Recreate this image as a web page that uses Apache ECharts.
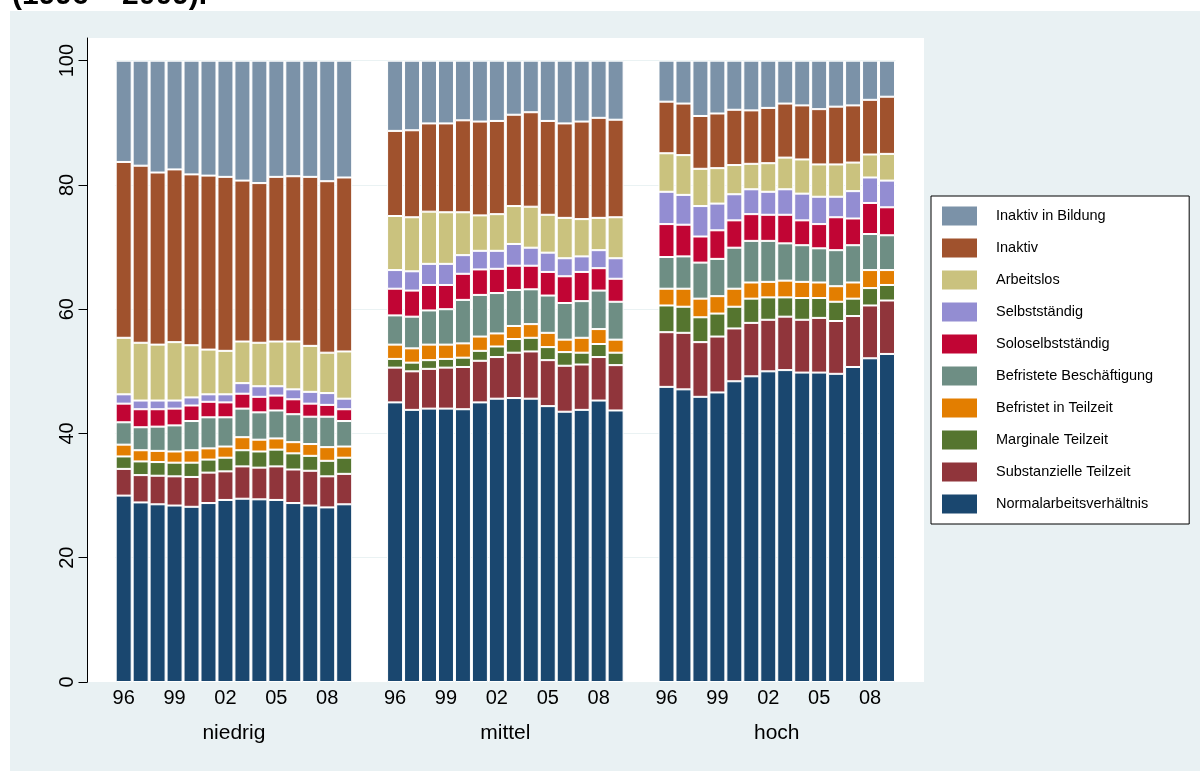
<!DOCTYPE html>
<html>
<head>
<meta charset="utf-8">
<script src="https://cdn.jsdelivr.net/npm/echarts@6/dist/echarts.min.js"></script>
<style>
html,body{margin:0;padding:0;background:#fff}
#main{width:1200px;height:771px}
</style>
</head>
<body>
<div id="main"></div>
<script>
const groups = ['niedrig', 'mittel', 'hoch'];
const years = ['96','97','98','99','00','01','02','03','04','05','06','07','08','09'];
const tickYears = ['96','99','02','05','08'];
const yTicks = [0, 20, 40, 60, 80, 100];

// one row per group: niedrig, mittel, hoch
const normal = [
  [30.0, 28.9, 28.6, 28.4, 28.2, 28.8, 29.3, 29.5, 29.4, 29.3, 28.8, 28.4, 28.1, 28.6],
  [45.0, 43.8, 44.0, 44.0, 43.9, 45.0, 45.6, 45.7, 45.6, 44.4, 43.5, 43.8, 45.3, 43.7],
  [47.5, 47.1, 45.9, 46.6, 48.4, 49.2, 50.0, 50.2, 49.8, 49.8, 49.6, 50.7, 52.1, 52.8]
];
const substanziell = [
  [4.3, 4.4, 4.6, 4.7, 4.8, 4.9, 4.6, 5.2, 5.1, 5.4, 5.4, 5.6, 5.0, 4.9],
  [5.6, 6.2, 6.4, 6.6, 6.8, 6.7, 6.7, 7.3, 7.6, 7.4, 7.4, 7.3, 7.0, 7.3],
  [8.8, 9.1, 8.8, 9.0, 8.5, 8.6, 8.3, 8.6, 8.5, 8.8, 8.5, 8.2, 8.5, 8.6]
];
const marginal = [
  [2.0, 2.2, 2.2, 2.2, 2.3, 2.1, 2.2, 2.6, 2.6, 2.7, 2.6, 2.4, 2.5, 2.6],
  [1.4, 1.4, 1.4, 1.4, 1.5, 1.6, 1.7, 2.2, 2.2, 2.1, 2.2, 1.9, 2.1, 2.0],
  [4.3, 4.2, 4.0, 3.7, 3.5, 3.9, 3.6, 3.1, 3.5, 3.2, 3.1, 2.8, 2.8, 2.5]
];
const befristetTeilzeit = [
  [1.9, 1.8, 1.8, 1.8, 2.0, 1.8, 1.8, 2.1, 1.9, 1.8, 1.8, 1.9, 2.2, 1.8],
  [2.3, 2.3, 2.5, 2.3, 2.3, 2.3, 2.1, 2.1, 2.2, 2.3, 2.0, 2.4, 2.4, 2.1],
  [2.7, 2.9, 3.0, 2.8, 2.9, 2.6, 2.5, 2.7, 2.6, 2.5, 2.5, 2.6, 2.9, 2.4]
];
const befristet = [
  [3.6, 3.7, 3.9, 4.2, 4.7, 5.0, 4.7, 4.6, 4.4, 4.5, 4.5, 4.4, 4.9, 4.1],
  [4.7, 5.1, 5.5, 5.7, 7.0, 6.7, 6.5, 5.8, 5.6, 6.0, 5.9, 5.9, 6.2, 6.1],
  [5.1, 5.2, 5.8, 6.0, 6.6, 6.7, 6.6, 6.0, 5.9, 5.5, 5.8, 6.0, 5.8, 5.6]
];
const solo = [
  [3.0, 2.9, 2.8, 2.7, 2.5, 2.5, 2.4, 2.4, 2.5, 2.4, 2.4, 2.1, 1.9, 1.9],
  [4.3, 4.2, 4.1, 3.9, 4.2, 4.1, 3.9, 3.9, 3.8, 3.8, 4.3, 4.7, 3.6, 3.7],
  [5.3, 5.1, 4.2, 4.6, 4.4, 4.3, 4.2, 4.6, 4.0, 3.9, 5.3, 4.3, 5.0, 4.5]
];
const selbst = [
  [1.5, 1.4, 1.4, 1.3, 1.3, 1.2, 1.3, 1.7, 1.7, 1.5, 1.6, 1.9, 1.9, 1.7],
  [3.0, 3.1, 3.4, 3.4, 3.0, 3.0, 2.9, 3.5, 2.9, 3.1, 2.9, 2.5, 2.9, 3.3],
  [5.2, 4.8, 4.9, 4.3, 4.2, 4.0, 3.7, 4.1, 4.3, 4.4, 3.3, 4.4, 4.1, 4.3]
];
const arbeitslos = [
  [9.1, 9.3, 9.0, 9.4, 8.4, 7.2, 7.0, 6.7, 7.0, 7.2, 7.7, 7.4, 6.5, 7.6],
  [8.7, 8.7, 8.4, 8.3, 6.9, 5.7, 5.9, 6.1, 6.6, 6.1, 6.5, 6.0, 5.2, 6.6],
  [6.2, 6.4, 6.0, 5.7, 4.7, 4.1, 4.6, 5.1, 5.5, 5.2, 5.2, 4.6, 3.7, 4.3]
];
const inaktiv = [
  [28.3, 28.5, 27.7, 27.8, 27.5, 28.0, 28.0, 25.9, 25.7, 26.5, 26.6, 27.2, 27.6, 28.0],
  [13.7, 14.0, 14.2, 14.3, 14.8, 15.1, 15.0, 14.7, 15.2, 15.1, 15.2, 15.7, 16.1, 15.7],
  [8.3, 8.3, 8.5, 8.8, 8.9, 8.6, 8.9, 8.7, 8.7, 8.9, 9.3, 9.2, 8.8, 9.2]
];
const bildung = [
  [16.3, 16.9, 18.0, 17.5, 18.3, 18.5, 18.7, 19.3, 19.7, 18.7, 18.6, 18.7, 19.4, 18.8],
  [11.3, 11.2, 10.1, 10.1, 9.6, 9.8, 9.7, 8.7, 8.3, 9.7, 10.1, 9.8, 9.2, 9.5],
  [6.6, 6.9, 8.9, 8.5, 7.9, 8.0, 7.6, 6.9, 7.2, 7.8, 7.4, 7.2, 6.3, 5.8]
];

const seriesDefs = [
  {name: 'Normalarbeitsverhältnis', data: normal, color: '#1a476f'},
  {name: 'Substanzielle Teilzeit', data: substanziell, color: '#90353b'},
  {name: 'Marginale Teilzeit', data: marginal, color: '#55752f'},
  {name: 'Befristet in Teilzeit', data: befristetTeilzeit, color: '#e37e00'},
  {name: 'Befristete Beschäftigung', data: befristet, color: '#6e8e84'},
  {name: 'Soloselbstständig', data: solo, color: '#c10534'},
  {name: 'Selbstständig', data: selbst, color: '#938dd2'},
  {name: 'Arbeitslos', data: arbeitslos, color: '#cac27e'},
  {name: 'Inaktiv', data: inaktiv, color: '#a0522d'},
  {name: 'Inaktiv in Bildung', data: bildung, color: '#7b92a8'}
];

// 14 bars per group, two empty slots between groups
const gapSlots = 2;
const step = years.length + gapSlots;
const categories = [];
groups.forEach((g, gi) => {
  years.forEach(y => categories.push(g + ' ' + y));
  if (gi < groups.length - 1) for (let k = 0; k < gapSlots; k++) categories.push('gap' + gi + k);
});
const withGaps = rows => rows.flatMap((row, gi) =>
  gi < rows.length - 1 ? row.concat(new Array(gapSlots).fill('-')) : row);
const groupCenters = groups.map((g, gi) => gi * step + (years.length - 1) / 2);

const font = "'Liberation Sans', Arial, sans-serif";

const chart = echarts.init(document.getElementById('main'));
chart.setOption({
  animation: false,
  backgroundColor: '#e9f1f3',
  textStyle: {fontFamily: font},
  graphic: [
    {type: 'rect', left: 0, top: 0, shape: {width: 1200, height: 11}, style: {fill: '#fff'}, silent: true},
    {type: 'rect', left: 0, top: 0, shape: {width: 10, height: 771}, style: {fill: '#fff'}, silent: true},
    {type: 'rect', left: 87.5, top: 38, z: -10, shape: {width: 836.5, height: 644}, style: {fill: '#fff'}, silent: true},
    {type: 'text', left: 12, top: -19, style: {text: '(1996 – 2009).', font: "bold 30px 'Liberation Sans', Arial", fill: '#000'}}
  ],
  grid: {left: 115.2, top: 38, right: 304.5, bottom: 89},
  legend: {
    orient: 'vertical',
    left: 931, top: 196,
    data: seriesDefs.map(s => s.name).reverse(),
    icon: 'rect',
    itemWidth: 35, itemHeight: 19, itemGap: 13,
    padding: [10.5, 36, 10.5, 11],
    backgroundColor: '#fff',
    borderColor: '#000', borderWidth: 1, borderRadius: 0,
    itemStyle: {borderWidth: 0},
    textStyle: {fontSize: 14.5, color: '#000', fontFamily: font, padding: [0, 0, 0, 14]}
  },
  xAxis: [
    {
      type: 'category', data: categories,
      axisLine: {show: false}, axisTick: {show: false}, splitLine: {show: false},
      axisLabel: {
        interval: 0, fontSize: 20, color: '#000', margin: 6,
        formatter: c => {
          const y = c.split(' ')[1];
          return tickYears.includes(y) ? y : '';
        }
      }
    },
    {
      type: 'value', min: -0.5, max: categories.length - 0.5, position: 'bottom', offset: 35,
      axisLine: {show: false}, axisTick: {show: false}, splitLine: {show: false},
      axisLabel: {
        customValues: groupCenters, fontSize: 21, color: '#000', margin: 6,
        formatter: v => groups[groupCenters.indexOf(v)]
      }
    }
  ],
  yAxis: {
    type: 'value', min: 0, max: 103.65, offset: 27.7,
    axisLine: {show: true, onZero: false, lineStyle: {color: '#000', width: 1}},
    axisTick: {show: true, length: 9, customValues: yTicks, lineStyle: {color: '#000'}},
    axisLabel: {customValues: yTicks, rotate: 90, fontSize: 20, color: '#000', margin: 10},
    splitLine: {show: true, lineStyle: {color: '#eaf2f3', width: 1}}
  },
  series: seriesDefs.map(s => ({
    name: s.name,
    type: 'bar',
    stack: 'all',
    barWidth: 16,
    itemStyle: {color: s.color, borderColor: '#fff', borderWidth: 1},
    data: withGaps(s.data)
  }))
});
</script>
</body>
</html>
